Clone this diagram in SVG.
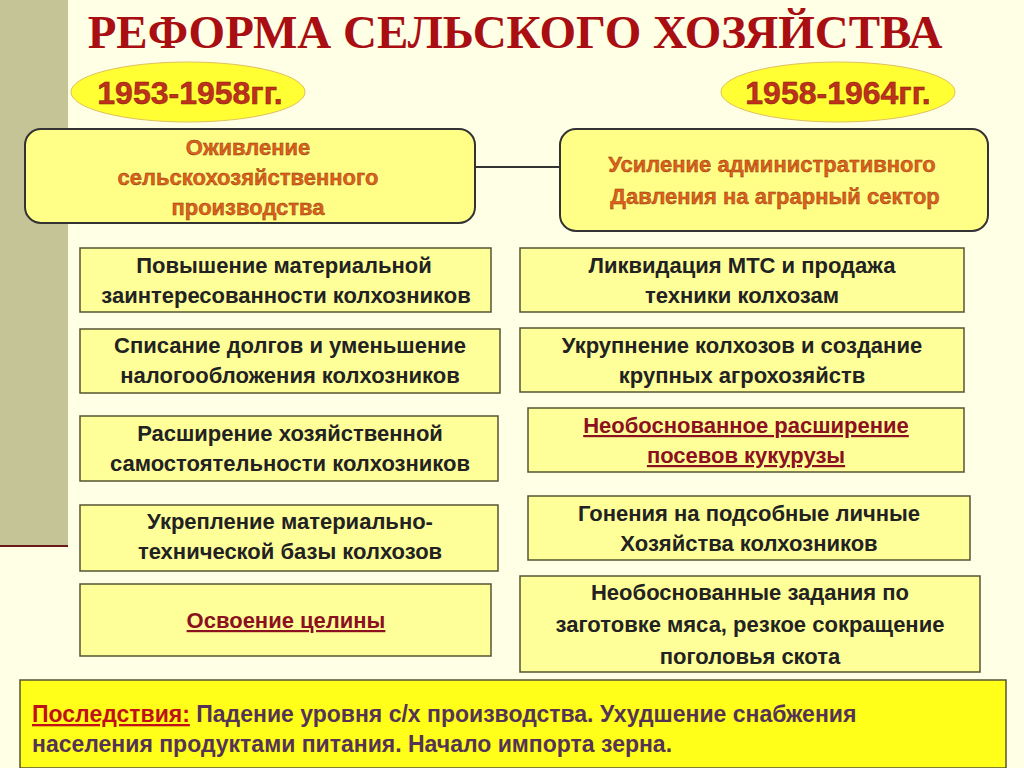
<svg xmlns="http://www.w3.org/2000/svg" width="1024" height="768" viewBox="0 0 1024 768">
<style>
.b{fill:#FFFF99;stroke:#555533;stroke-width:1.5}
.t{font-family:"Liberation Sans",Arial,sans-serif;font-weight:bold;font-size:22px;fill:#222;text-anchor:middle}
.o{fill:#E0601A;stroke:#7a3a10;stroke-width:0.4}
.r{fill:#8B1020;text-decoration:underline}
</style>
<rect width="1024" height="768" fill="#FFFFE6"/>
<rect x="0" y="0" width="68" height="545" fill="#C4C497"/>
<line x1="0" y1="546" x2="68" y2="546" stroke="#6B1A1A" stroke-width="2"/>
<text x="515" y="48" text-anchor="middle" font-family="Liberation Serif,serif" font-weight="bold" font-size="47" fill="#A80E12">РЕФОРМА СЕЛЬСКОГО ХОЗЯЙСТВА</text>
<g id="y1"><ellipse cx="188" cy="92" rx="117" ry="30" fill="#FFFF33" stroke="#E0C060"/><text class="t" x="190" y="104" style="font-size:32px;fill:#C0301A;stroke:#7a2010;stroke-width:0.5">1953-1958гг.</text></g>
<g id="y2"><ellipse cx="838" cy="92" rx="117" ry="30" fill="#FFFF33" stroke="#E0C060"/><text class="t" x="838" y="104" style="font-size:32px;fill:#C0301A;stroke:#7a2010;stroke-width:0.5">1958-1964гг.</text></g>
<g id="connectors"><line x1="475" y1="167" x2="560" y2="167" stroke="#333" stroke-width="2"/></g>
<g id="h1"><rect x="25" y="129" width="450" height="94" rx="16" fill="#FFFF88" stroke="#333" stroke-width="2"/>
<text class="t o" x="248" y="155">Оживление</text><text class="t o" x="248" y="185">сельскохозяйственного</text><text class="t o" x="248" y="215">производства</text></g>
<g id="h2"><rect x="560" y="129" width="428" height="102" rx="16" fill="#FFFF88" stroke="#333" stroke-width="2"/>
<text class="t o" x="772" y="172">Усиление административного</text><text class="t o" x="775" y="204">Давления на аграрный сектор</text></g>
<g id="l1"><rect class="b" x="80" y="248" width="411" height="64"/><text class="t" x="284" y="273">Повышение материальной</text><text class="t" x="286" y="303">заинтересованности колхозников</text></g>
<g id="l2"><rect class="b" x="80" y="329" width="420" height="64"/><text class="t" x="290" y="353">Списание долгов и уменьшение</text><text class="t" x="290" y="383">налогообложения колхозников</text></g>
<g id="l3"><rect class="b" x="80" y="416" width="418" height="65"/><text class="t" x="290" y="441">Расширение хозяйственной</text><text class="t" x="290" y="471">самостоятельности колхозников</text></g>
<g id="l4"><rect class="b" x="80" y="505" width="418" height="66"/><text class="t" x="290" y="529">Укрепление материально-</text><text class="t" x="290" y="559">технической базы колхозов</text></g>
<g id="l5"><rect class="b" x="80" y="584" width="411" height="72"/><text class="t r" x="286" y="628">Освоение целины</text></g>
<g id="r1"><rect class="b" x="520" y="248" width="444" height="64"/><text class="t" x="742" y="273">Ликвидация МТС и продажа</text><text class="t" x="742" y="303">техники колхозам</text></g>
<g id="r2"><rect class="b" x="520" y="328" width="444" height="64"/><text class="t" x="742" y="353">Укрупнение колхозов и создание</text><text class="t" x="742" y="383">крупных агрохозяйств</text></g>
<g id="r3"><rect class="b" x="528" y="408" width="436" height="64"/><text class="t r" x="746" y="433">Необоснованное расширение</text><text class="t r" x="746" y="463">посевов кукурузы</text></g>
<g id="r4"><rect class="b" x="528" y="496" width="442" height="64"/><text class="t" x="749" y="521">Гонения на подсобные личные</text><text class="t" x="749" y="551">Хозяйства колхозников</text></g>
<g id="r5"><rect class="b" x="520" y="576" width="460" height="96"/><text class="t" x="750" y="600">Необоснованные задания по</text><text class="t" x="750" y="632">заготовке мяса, резкое сокращение</text><text class="t" x="750" y="664">поголовья скота</text></g>
<g id="cons"><rect x="20" y="680" width="986" height="88" fill="#FFFF1A" stroke="#555533" stroke-width="1.5"/>
<text class="t" x="32" y="722" style="text-anchor:start;fill:#553355;font-size:23px"><tspan style="fill:#C0101A;text-decoration:underline">Последствия:</tspan> Падение уровня с/х производства. Ухудшение снабжения</text>
<text class="t" x="32" y="752" style="text-anchor:start;fill:#553355;font-size:23px">населения продуктами питания. Начало импорта зерна.</text></g>
</svg>
